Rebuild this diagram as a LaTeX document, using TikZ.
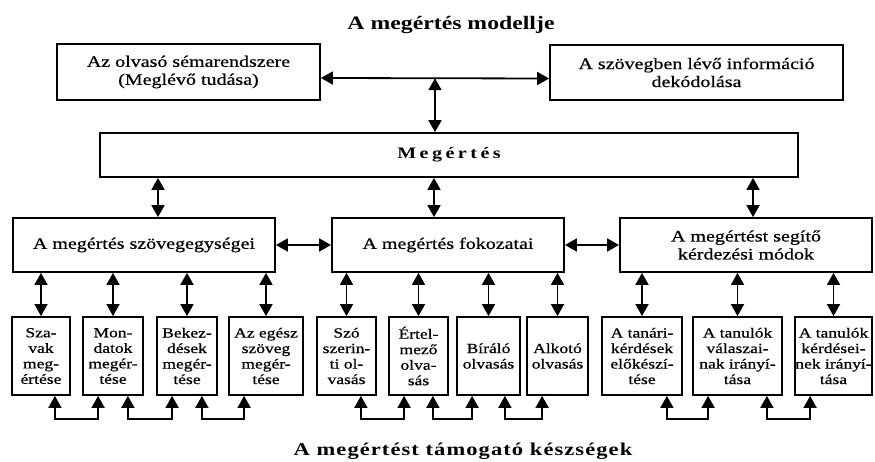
\documentclass[tikz,border=0pt]{standalone}
\usepackage{fontspec}
\setmainfont{Liberation Serif}[FakeStretch=1.25, UprightFeatures={FakeBold=0.6}]
\usetikzlibrary{arrows.meta}

\begin{document}
\begin{tikzpicture}[x=1pt, y=-1pt,
    box/.style={draw, line width=1.8pt, align=center, inner sep=0pt,
      font=\fontsize{16}{18}\selectfont},
    sbox/.style={draw, line width=1.8pt, align=center, inner sep=0pt,
      minimum height=78pt, font=\fontsize{14}{15.5}\selectfont},
    both/.style={line width=1.8pt, {Triangle[length=12pt,width=13pt]}-{Triangle[length=12pt,width=13pt]}}]
  \fill[white] (0,0) rectangle (875,462);
  \useasboundingbox (0,0) rectangle (875,462);

  \node[anchor=base, font=\fontsize{19}{21}\selectfont\bfseries] (title) at (451,30) {A megértés modellje};

  \node[box, minimum width=263pt, minimum height=56pt] (sema) at (188.5,72) {Az olvasó sémarendszere\\(Meglévő tudása)};
  \node[box, minimum width=293pt, minimum height=55pt] (dekod) at (696.5,72.5) {A szövegben lévő információ\\dekódolása};
  \node[box, minimum width=698pt, minimum height=44pt, font=\fontsize{16}{18}\selectfont\bfseries\addfontfeatures{LetterSpace=22}] (megertes) at (449,155) {Megértés};

  \node[box, minimum width=262pt, minimum height=54pt] (egyseg) at (144,245) {A megértés szövegegységei};
  \node[box, minimum width=232pt, minimum height=54pt] (fokozat) at (448,245) {A megértés fokozatai};
  \node[box, minimum width=252pt, minimum height=54pt] (modok) at (746,245) {A megértést segítő\\kérdezési módok};

  \node[sbox, minimum width=58pt] (sza) at (41,356) {Sza-\\vak\\meg-\\értése};
  \node[sbox, minimum width=60pt] (mon) at (113,356) {Mon-\\datok\\megér-\\tése};
  \node[sbox, minimum width=60pt] (bekez) at (187,356) {Bekez-\\dések\\megér-\\tése};
  \node[sbox, minimum width=74pt] (egesz) at (266,356) {Az egész\\szöveg\\megér-\\tése};
  \node[sbox, minimum width=59pt] (szo) at (346.5,356) {Szó\\szerin-\\ti ol-\\vasás};
  \node[sbox, minimum width=59pt] (ertel) at (418.5,356) {Értel-\\mező\\olva-\\sás};
  \node[sbox, minimum width=63pt] (biralo) at (488.5,356) {Bíráló\\olvasás};
  \node[sbox, minimum width=61pt] (alkoto) at (557.5,356) {Alkotó\\olvasás};
  \node[sbox, minimum width=80pt] (tanari) at (642,356) {A tanári-\\kérdések\\előkészí-\\tése};
  \node[sbox, minimum width=89pt] (valasz) at (737.5,356) {A tanulók\\válaszai-\\nak irányí-\\tása};
  \node[sbox, minimum width=77pt] (kerdes) at (833.5,356) {A tanulók\\kérdései-\\nek irányí-\\tása};

  \node[anchor=base, font=\fontsize{18}{20}\selectfont\bfseries\addfontfeatures{LetterSpace=6}] (keszseg) at (463,455) {A megértést támogató készségek};

  \draw[both] ([yshift=-6pt]sema.east) -- coordinate (hub) ([yshift=-6pt]dekod.west);
  \draw[both] (hub) -- (hub |- megertes.north);

  \coordinate (e1) at ([xshift=14pt]egyseg.north);
  \coordinate (e2) at ([xshift=-14pt]fokozat.north);
  \coordinate (e3) at ([xshift=7pt]modok.north);
  \foreach \e in {e1,e2,e3}
    \draw[both] (\e |- megertes.south) -- (\e);

  \draw[both] (egyseg) -- (fokozat);
  \draw[both] (fokozat) -- (modok);

  \foreach \b in {sza,mon,bekez,egesz}
    \draw[both] (egyseg.south -| \b.north) -- (\b.north);
  \foreach \b in {szo,ertel,biralo,alkoto}
    \draw[both] (fokozat.south -| \b.north) -- (\b.north);
  \foreach \b in {tanari,valasz,kerdes}
    \draw[both] (modok.south -| \b.north) -- (\b.north);

  \foreach \a/\b in {sza/mon,mon/bekez,bekez/egesz,szo/ertel,ertel/biralo,biralo/alkoto,tanari/valasz,valasz/kerdes}
    \draw[both] ([xshift=-16pt]\a.south east) -- ++(0,23) -| ([xshift=16pt]\b.south west);
\end{tikzpicture}
\end{document}
